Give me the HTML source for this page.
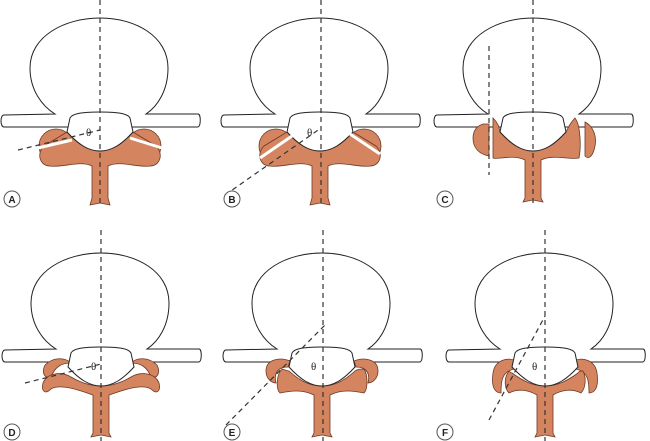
<!DOCTYPE html><html><head><style>body{margin:0;background:#fff}svg{display:block}</style></head><body>
<svg width="650" height="441" viewBox="0 0 650 441" xmlns="http://www.w3.org/2000/svg" font-family="Liberation Sans, sans-serif">
<defs>
<path id="body" d="M-45,96 C-58,88 -70,72 -70,50 C-70,18 -35,0 0,0 C35,0 68,18 68,50 C68,72 58,88 46,96 L98,96 C101,96 101,108 98,109 L52,109 L-52,109 L-96,109 C-100,109 -100,97 -96,97 Z" fill="#fff" stroke="#222" stroke-width="1"/>
<path id="canal" d="M-30,100 C-28,96 -20,94 0,94 C20,94 28,96 30,100 L33,114 C22,126 12,133 0,133 C-12,133 -22,126 -33,114 Z" fill="#fff" stroke="#222" stroke-width="1"/>
<path id="lam" d="M-33,114 C-22,126 -12,133 0,133 C12,133 22,126 33,114 L56,128 C64,136 60,148 50,148 C38,150 20,142 8,148 L8,180 L10,187 L0,185 L-10,187 L-8,180 L-8,148 C-20,142 -38,150 -50,148 C-60,148 -64,136 -56,128 Z" fill="#d4845f" stroke="#6b3a25" stroke-width="0.8"/>
</defs>
<!-- A -->
<g transform="translate(100,18)">
<use href="#body"/>
<circle cx="-44" cy="128" r="17" fill="#d4845f" stroke="#6b3a25" stroke-width=".8"/>
<circle cx="44" cy="128" r="17" fill="#d4845f" stroke="#6b3a25" stroke-width=".8"/>
<use href="#lam"/><use href="#canal"/>
<line x1="-62" y1="130" x2="-28" y2="122" stroke="#fff" stroke-width="3"/>
<line x1="30" y1="120" x2="62" y2="130" stroke="#fff" stroke-width="3"/>
</g>
<!-- B -->
<g transform="translate(320,18)">
<use href="#body"/>
<circle cx="-44" cy="128" r="17" fill="#d4845f" stroke="#6b3a25" stroke-width=".8"/>
<circle cx="44" cy="128" r="17" fill="#d4845f" stroke="#6b3a25" stroke-width=".8"/>
<use href="#lam"/><use href="#canal"/>
<line x1="-60" y1="140" x2="-28" y2="118" stroke="#fff" stroke-width="3"/>
<line x1="30" y1="116" x2="60" y2="136" stroke="#fff" stroke-width="3"/>
</g>
<!-- C -->
<g transform="translate(533,18)">
<use href="#body"/>
<path d="M-50,106 L-44,106 L-44,138 C-54,136 -60,130 -60,120 C-60,112 -56,108 -50,106 Z" fill="#d4845f" stroke="#6b3a25" stroke-width=".8"/>
<path d="M52,104 C60,108 64,118 62,128 C60,138 56,142 52,138 Z" fill="#d4845f" stroke="#6b3a25" stroke-width=".8"/>
<path d="M-40,100 C-34,106 -34,110 -33,114 C-22,126 -12,133 0,133 C12,133 22,126 33,114 C36,108 38,104 42,100 C48,108 48,130 46,140 C36,142 20,136 8,142 L8,180 L10,184 L0,182 L-10,184 L-8,180 L-8,142 C-20,136 -36,142 -40,140 Z" fill="#d4845f" stroke="#6b3a25" stroke-width=".8"/>
<use href="#canal"/>
</g>
<!-- D -->
<g transform="translate(101,253)">
<use href="#body"/>
<path d="M-56,112 C-48,104 -36,104 -30,110 C-40,110 -46,114 -50,124 C-56,126 -60,120 -56,112 Z" fill="#d4845f" stroke="#6b3a25" stroke-width=".8"/>
<path d="M56,112 C48,104 36,104 30,110 C40,110 46,114 50,124 C56,126 60,120 56,112 Z" fill="#d4845f" stroke="#6b3a25" stroke-width=".8"/>
<path d="M-30,124 C-20,130 -10,133 0,133 C10,133 20,130 30,124 C40,118 54,120 58,130 C60,138 56,142 50,136 C40,130 20,138 8,142 L8,180 L10,184 L0,182 L-10,184 L-8,180 L-8,142 C-20,138 -40,130 -50,136 C-56,142 -60,138 -58,130 C-54,120 -40,118 -30,124 Z" fill="#d4845f" stroke="#6b3a25" stroke-width=".8"/>
<use href="#canal"/>
</g>
<!-- E -->
<g transform="translate(322,253)">
<use href="#body"/>
<path d="M-32,108 C-42,104 -56,106 -56,118 C-56,126 -50,130 -46,130 C-48,122 -46,114 -34,114 Z" fill="#d4845f" stroke="#6b3a25" stroke-width=".8"/>
<path d="M32,108 C42,104 56,106 56,118 C56,126 50,130 46,130 C48,122 46,114 34,114 Z" fill="#d4845f" stroke="#6b3a25" stroke-width=".8"/>
<path d="M-40,116 C-34,118 -33,118 -33,118 C-22,128 -12,133 0,133 C12,133 22,128 33,118 C36,116 38,116 42,116 C46,122 46,136 42,140 C32,138 20,136 8,142 L8,180 L10,184 L0,182 L-10,184 L-8,180 L-8,142 C-20,136 -32,138 -42,140 C-46,136 -46,122 -40,116 Z" fill="#d4845f" stroke="#6b3a25" stroke-width=".8"/>
<use href="#canal"/>
</g>
<!-- F -->
<g transform="translate(545,253)">
<use href="#body"/>
<path d="M-28,108 C-36,104 -50,106 -52,120 C-54,134 -50,140 -44,140 C-44,130 -44,118 -30,116 Z" fill="#d4845f" stroke="#6b3a25" stroke-width=".8"/>
<path d="M28,108 C36,104 50,106 52,120 C54,134 50,140 44,140 C44,130 44,118 30,116 Z" fill="#d4845f" stroke="#6b3a25" stroke-width=".8"/>
<path d="M-36,118 C-34,120 -33,120 -33,120 C-22,128 -12,133 0,133 C12,133 22,128 33,120 C34,118 36,118 38,118 C42,126 40,136 36,140 C28,136 18,136 8,142 L8,180 L10,184 L0,182 L-10,184 L-8,180 L-8,142 C-18,136 -28,136 -36,140 C-40,136 -42,126 -36,118 Z" fill="#d4845f" stroke="#6b3a25" stroke-width=".8"/>
<use href="#canal"/>
</g>
<g fill="none" stroke="#333" stroke-dasharray="5,4" stroke-width="1.2">
<line x1="100" y1="0" x2="100" y2="205"/><line x1="18" y1="150" x2="100" y2="130"/>
<line x1="321" y1="0" x2="321" y2="205"/><line x1="225" y1="195" x2="321" y2="128"/>
<line x1="533" y1="0" x2="533" y2="205"/><line x1="489" y1="46" x2="489" y2="175"/>
<line x1="101" y1="230" x2="101" y2="441"/><line x1="25" y1="383" x2="101" y2="364"/>
<line x1="323" y1="230" x2="323" y2="441"/><line x1="226" y1="425" x2="325" y2="325"/>
<line x1="545" y1="230" x2="545" y2="441"/><line x1="489" y1="420" x2="545" y2="316"/>
</g>
<g font-size="11" font-family="Liberation Serif, serif" fill="#222">
<text x="86" y="136">θ</text><text x="307" y="136">θ</text>
<text x="91" y="370">θ</text><text x="311" y="370">θ</text><text x="532" y="370">θ</text>
</g>
<g font-size="10" font-weight="bold" text-anchor="middle" fill="#222">
<circle cx="12" cy="199" r="8" fill="#fff" stroke="#555"/><text x="12" y="203">A</text>
<circle cx="232" cy="199" r="8" fill="#fff" stroke="#555"/><text x="232" y="203">B</text>
<circle cx="445" cy="199" r="8" fill="#fff" stroke="#555"/><text x="445" y="203">C</text>
<circle cx="12" cy="432" r="8" fill="#fff" stroke="#555"/><text x="12" y="436">D</text>
<circle cx="232" cy="432" r="8" fill="#fff" stroke="#555"/><text x="232" y="436">E</text>
<circle cx="445" cy="432" r="8" fill="#fff" stroke="#555"/><text x="445" y="436">F</text>
</g>
</svg>
</body></html>
